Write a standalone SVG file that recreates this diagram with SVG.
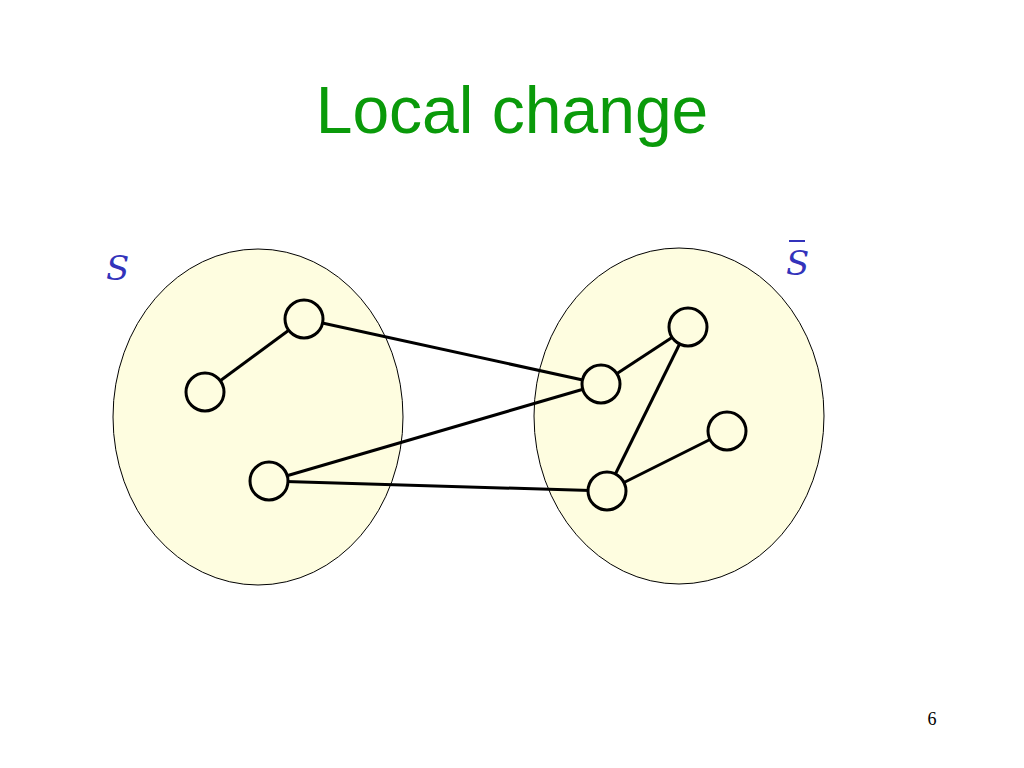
<svg xmlns="http://www.w3.org/2000/svg" width="1024" height="768" viewBox="0 0 1024 768">
<style>
.set{fill:#fefde0;stroke:#000;stroke-width:1}
.n{fill:#fefde0;stroke:#000;stroke-width:3}
.e{stroke:#000;stroke-width:3}
.lbl{font-family:"DejaVu Serif",serif;font-style:italic;font-size:34px;fill:#3333bb}
</style>
<rect width="1024" height="768" fill="#fff"/>
<text x="512" y="133" text-anchor="middle" font-family="Liberation Sans,Arial,sans-serif" font-size="66" fill="#0a9a0a">Local change</text>
<g id="setS"><ellipse class="set" cx="258" cy="417" rx="145" ry="168"/><text class="lbl" x="106" y="280">S</text></g>
<g id="setSbar"><ellipse class="set" cx="679" cy="416" rx="145" ry="168"/><text class="lbl" x="786" y="275">S</text><line x1="789" y1="241" x2="805" y2="241" stroke="#3333bb" stroke-width="2"/></g>
<g id="edges">
<line class="e" x1="205" y1="392" x2="304" y2="319"/>
<line class="e" x1="304" y1="319" x2="601" y2="384"/>
<line class="e" x1="269" y1="481" x2="601" y2="384"/>
<line class="e" x1="269" y1="481" x2="607" y2="491"/>
<line class="e" x1="601" y1="384" x2="688" y2="327"/>
<line class="e" x1="688" y1="327" x2="607" y2="491"/>
<line class="e" x1="607" y1="491" x2="727" y2="431"/>
</g>
<g id="a"><circle class="n" cx="205" cy="392" r="19"/></g>
<g id="b"><circle class="n" cx="304" cy="319" r="19"/></g>
<g id="c"><circle class="n" cx="269" cy="481" r="19"/></g>
<g id="d"><circle class="n" cx="601" cy="384" r="19"/></g>
<g id="e"><circle class="n" cx="688" cy="327" r="19"/></g>
<g id="f"><circle class="n" cx="727" cy="431" r="19"/></g>
<g id="g"><circle class="n" cx="607" cy="491" r="19"/></g>
<text x="932" y="725" text-anchor="middle" font-family="Liberation Serif,serif" font-size="18">6</text>
</svg>
